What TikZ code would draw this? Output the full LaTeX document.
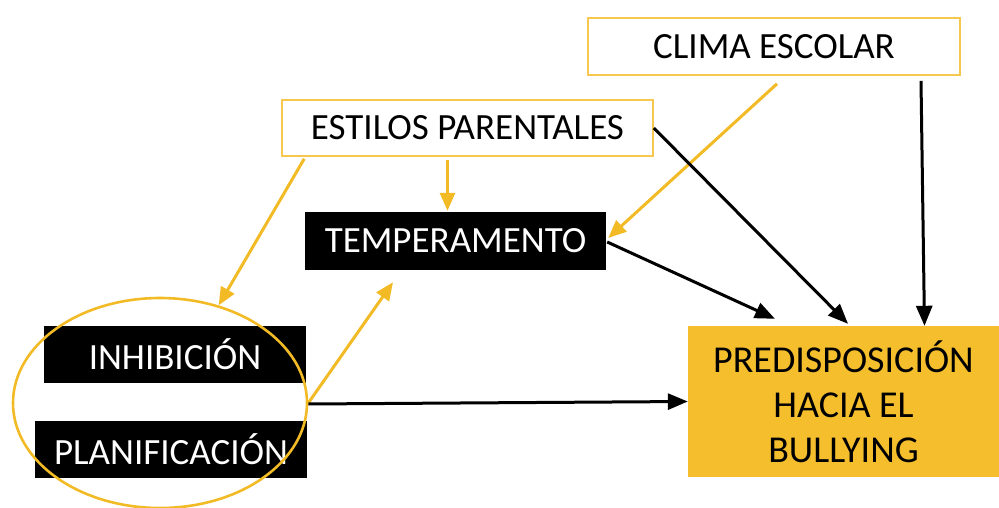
\documentclass[tikz,border=0pt]{standalone}
\usepackage{fontspec}
\setmainfont{Carlito}
\usetikzlibrary{arrows.meta,shapes.geometric}
\definecolor{ylw}{RGB}{242,187,38}
\definecolor{ylwfill}{RGB}{245,190,44}
\definecolor{ylwborder}{RGB}{246,200,80}
\begin{document}
\begin{tikzpicture}[x=1pt,y=-1pt,
  whitebox/.style={draw=ylwborder,line width=1.6pt,fill=white,rectangle,inner sep=0pt,
    font=\fontsize{37}{42}\selectfont,text=black},
  blackbox/.style={fill=black,rectangle,inner sep=0pt,font=\fontsize{37}{42}\selectfont,text=white},
  ylwarrow/.style={draw=ylw,line width=3pt,-{Triangle[length=18pt,width=15pt]}},
  blkarrow/.style={draw=black,line width=3pt,-{Triangle[length=20pt,width=16pt]}}]
\useasboundingbox (0,0) rectangle (999,508);
\node[whitebox,minimum width=372pt,minimum height=57pt] (clima) at (774,46.5) {CLIMA ESCOLAR};
\node[whitebox,minimum width=371pt,minimum height=56pt] (estilos) at (467.5,128) {ESTILOS PARENTALES};
\node[blackbox,minimum width=301pt,minimum height=58pt] (temp) at (455.5,241) {TEMPERAMENTO};
\node[blackbox,minimum width=262pt,minimum height=57pt] (inhib) at (175,354) {INHIBICIÓN};
\node[blackbox,minimum width=272pt,minimum height=57pt] (planif) at (171,449.5) {PLANIFICACIÓN};
\node[fill=ylwfill,rectangle,inner sep=0pt,minimum width=311pt,minimum height=151pt,
  align=center,font=\fontsize{38}{45}\selectfont] (predisp) at (843.5,401.5)
  {PREDISPOSICIÓN\\HACIA EL\\BULLYING};
\node[draw=ylw,line width=2.6pt,ellipse,inner sep=0pt,minimum width=294pt,minimum height=210pt] (ell) at (160,403) {};
% yellow arrows
\draw[ylwarrow] ([shift={(3,8)}]clima.south) -- ([shift={(2,-3)}]temp.east);
\draw[ylwarrow] ([shift={(-20,3)}]estilos.south) -- ([shift={(-8,-1)}]temp.north);
\draw[ylwarrow] ([shift={(23,2)}]estilos.south west) -- (ell.59);
\draw[ylwarrow] (ell.east) -- ([shift={(-62.5,12)}]temp.south);
% black arrows
\draw[blkarrow] ([shift={(147,5)}]clima.south) -- ([shift={(81,0)}]predisp.north);
\draw[blkarrow] (estilos.east) -- ([shift={(4.5,-2)}]predisp.north);
\draw[blkarrow] ([shift={(1,1)}]temp.east) -- ([shift={(-68.5,-7)}]predisp.north);
\draw[blkarrow] ([shift={(0,1)}]ell.east) -- (predisp.west);
\end{tikzpicture}
\end{document}
